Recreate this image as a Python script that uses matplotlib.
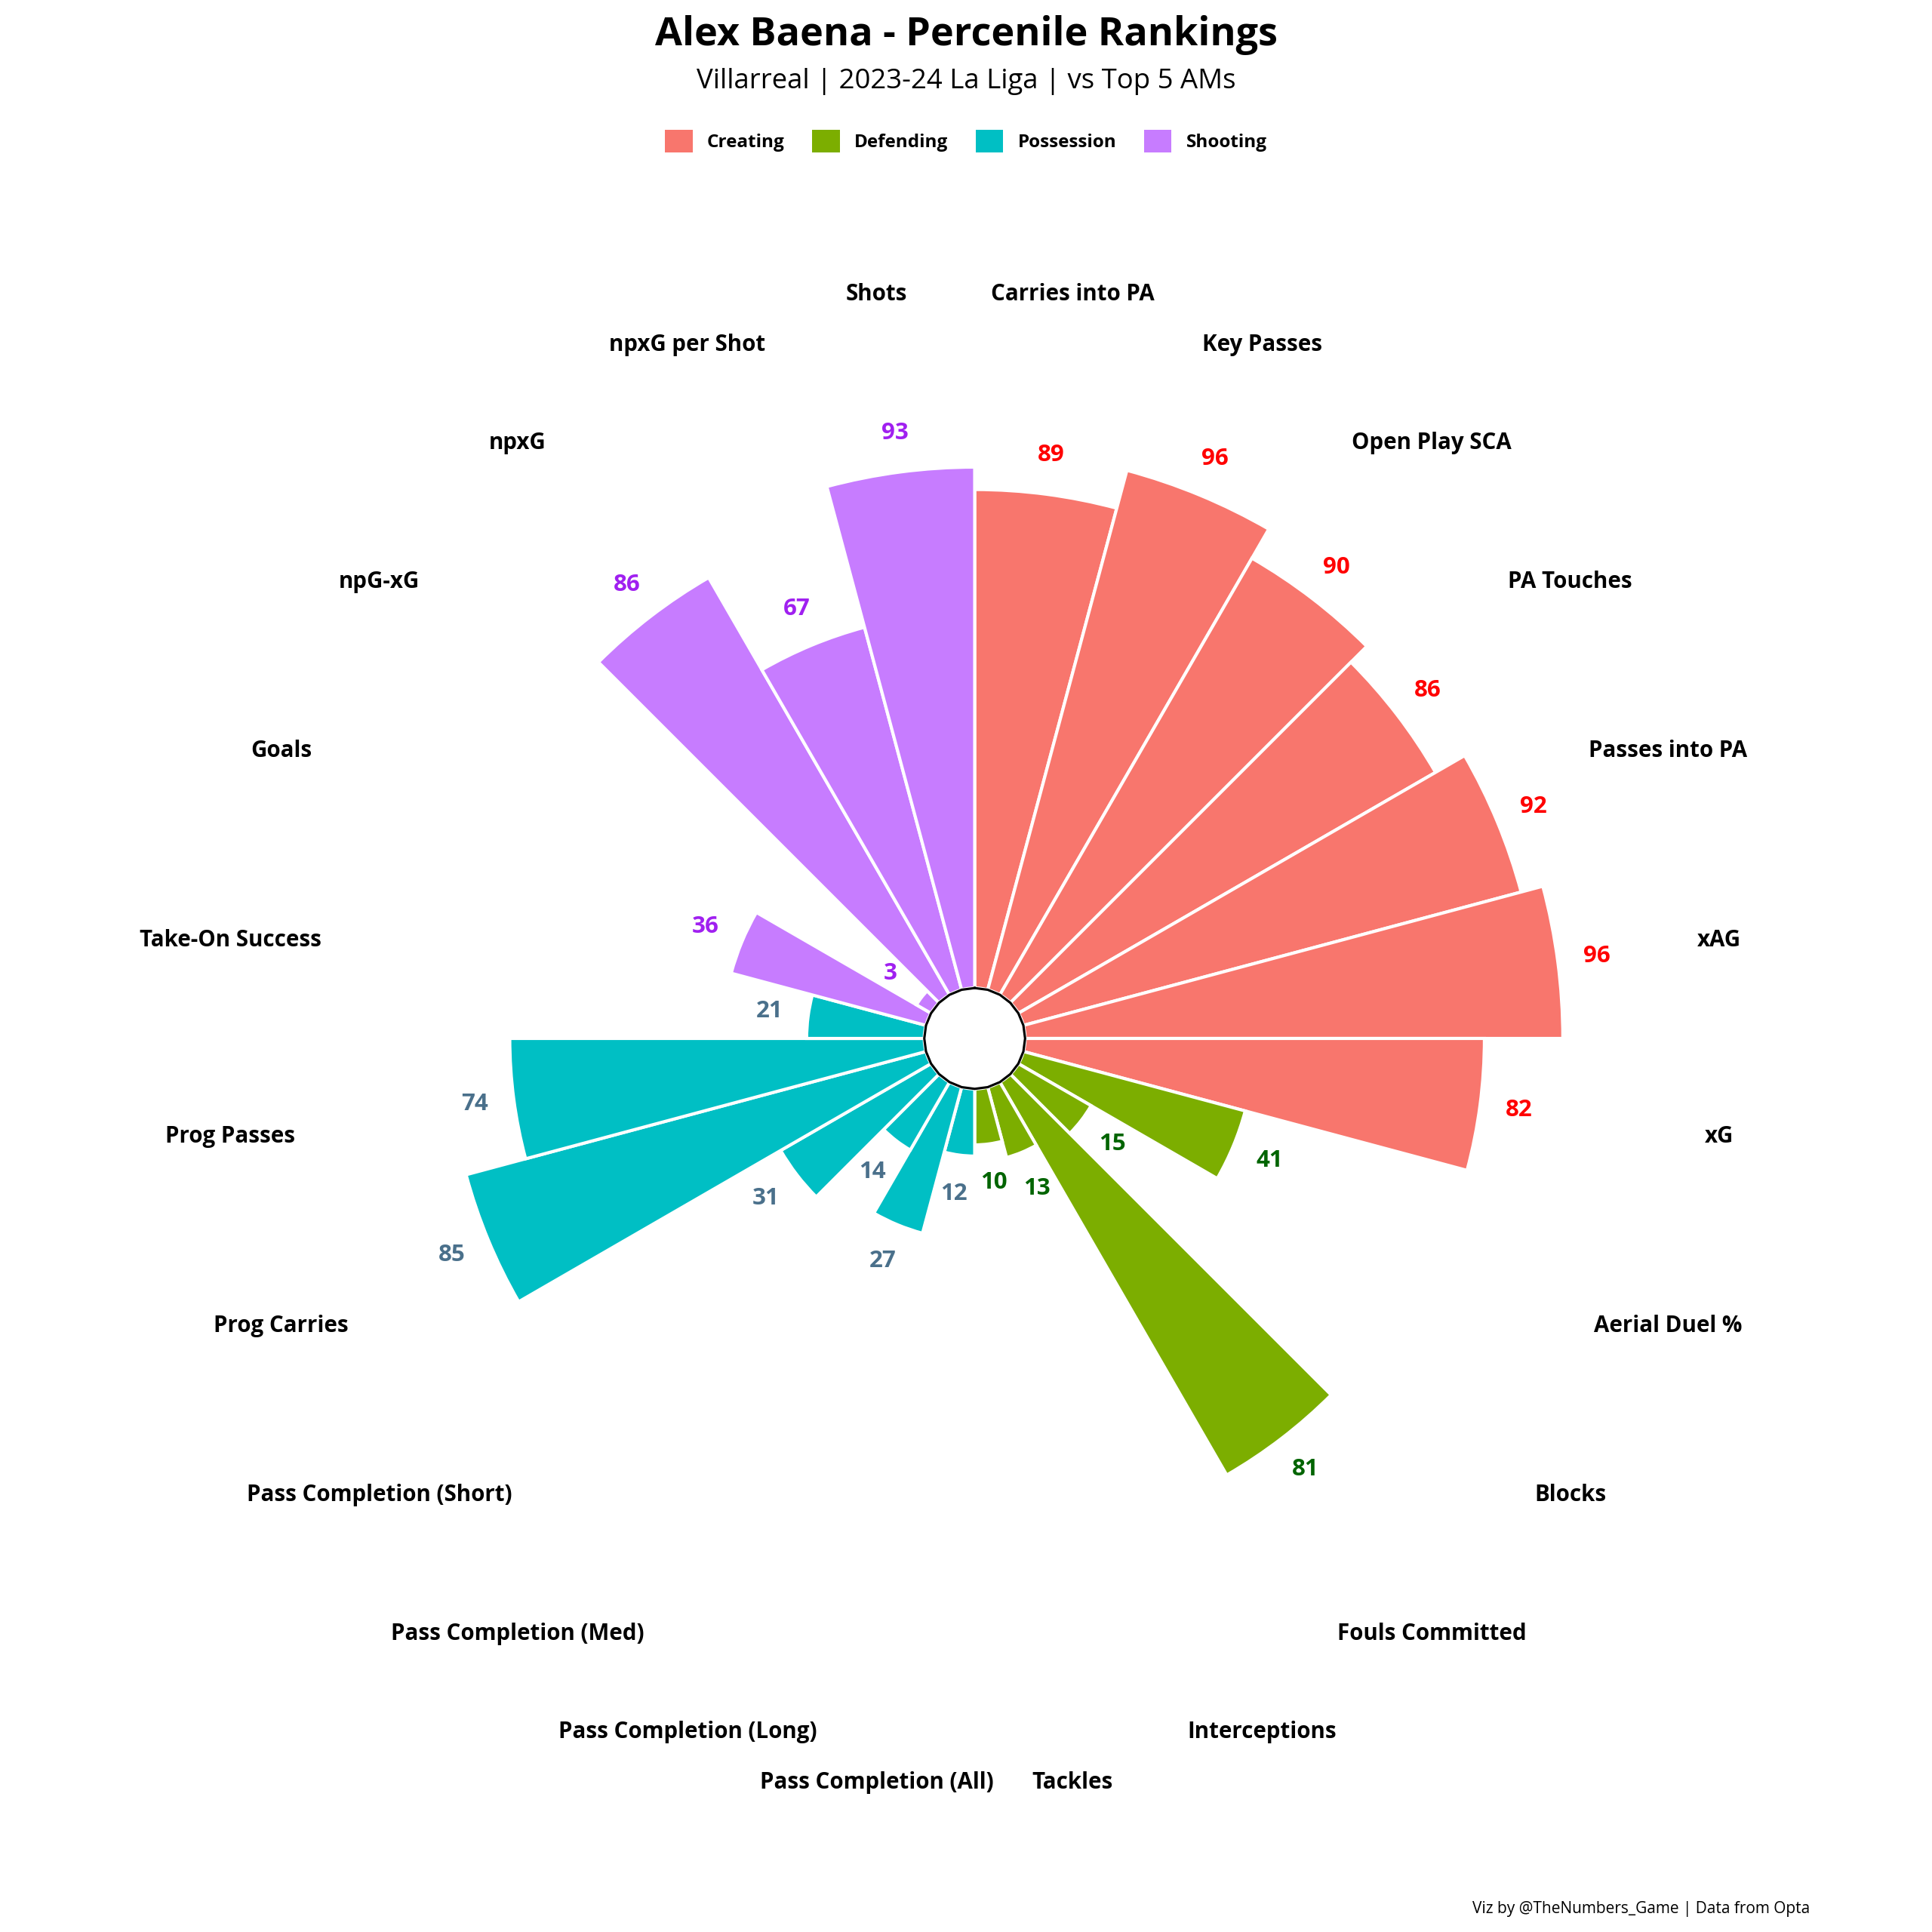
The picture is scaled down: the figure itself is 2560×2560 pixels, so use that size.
import numpy as np
import matplotlib.pyplot as plt
from matplotlib.patches import Patch

plt.rcParams['font.family'] = ['Open Sans', 'DejaVu Sans']

metrics = ["Carries into PA", "Key Passes", "Open Play SCA", "PA Touches", "Passes into PA", "xAG", "xG",
           "Aerial Duel %", "Blocks", "Fouls Committed", "Interceptions", "Tackles",
           "Pass Completion (All)", "Pass Completion (Long)", "Pass Completion (Med)", "Pass Completion (Short)",
           "Prog Carries", "Prog Passes", "Take-On Success",
           "Goals", "npG-xG", "npxG", "npxG per Shot", "Shots"]
values = [89, 96, 90, 86, 92, 96, 82,
          41, 15, 81, 13, 10,
          12, 27, 14, 31, 85, 74, 21,
          36, 3, 86, 67, 93]
groups = ["Creating"] * 7 + ["Defending"] * 5 + ["Possession"] * 7 + ["Shooting"] * 5

bar_col = {"Creating": "#F8766D", "Defending": "#7CAE00", "Possession": "#00BFC4", "Shooting": "#C77CFF"}
txt_col = {"Creating": "#FF0000", "Defending": "#006400", "Possession": "#4A708B", "Shooting": "#A020F0"}

n = len(values)
width = 2 * np.pi / n
theta = np.arange(n) * width + width / 2

fig = plt.figure(figsize=(10.24, 10.24), dpi=250)
ax = fig.add_axes([0.116, 0.074, 0.777, 0.777], projection='polar')
ax.set_theta_zero_location('N')
ax.set_theta_direction(-1)
ax.set_ylim(-9, 125)

ax.bar(theta, values, width=width, bottom=0,
       color=[bar_col[g] for g in groups], edgecolor='white', linewidth=1.2, zorder=2)

t = np.linspace(0, 2 * np.pi, 25)
ax.fill(t, np.zeros_like(t) - 0.01, color='white', zorder=3)
ax.plot(t, np.zeros_like(t), color='black', linewidth=0.9, zorder=4)

for th, v, g, m in zip(theta, values, groups, metrics):
    ax.text(th, v + 7, str(v), color=txt_col[g], fontsize=9, fontweight='bold',
            ha='center', va='center', zorder=5)
    ax.text(th, 125, m, color='black', fontsize=8.5, fontweight='bold',
            ha='center', va='center', clip_on=False)

ax.set_xticks([])
ax.set_yticks([])
ax.spines['polar'].set_visible(False)
ax.grid(False)

fig.text(0.5, 0.982, "Alex Baena - Percenile Rankings", ha='center', va='center',
         fontsize=15, fontweight='bold')
fig.text(0.5, 0.958, "Villarreal | 2023-24 La Liga | vs Top 5 AMs", ha='center', va='center', fontsize=10.5)

handles = [Patch(facecolor=bar_col[k], edgecolor='none', label=k) for k in bar_col]
fig.legend(handles=handles, loc='center', bbox_to_anchor=(0.5, 0.927), ncol=4, frameon=False,
           prop={'weight': 'bold', 'size': 7}, handlelength=1.5, handleheight=1.5, columnspacing=1.5)

fig.text(0.937, 0.008, "Viz by @TheNumbers_Game | Data from Opta", ha='right', va='bottom', fontsize=6)

fig.savefig("out.png", dpi=250, facecolor='white')
